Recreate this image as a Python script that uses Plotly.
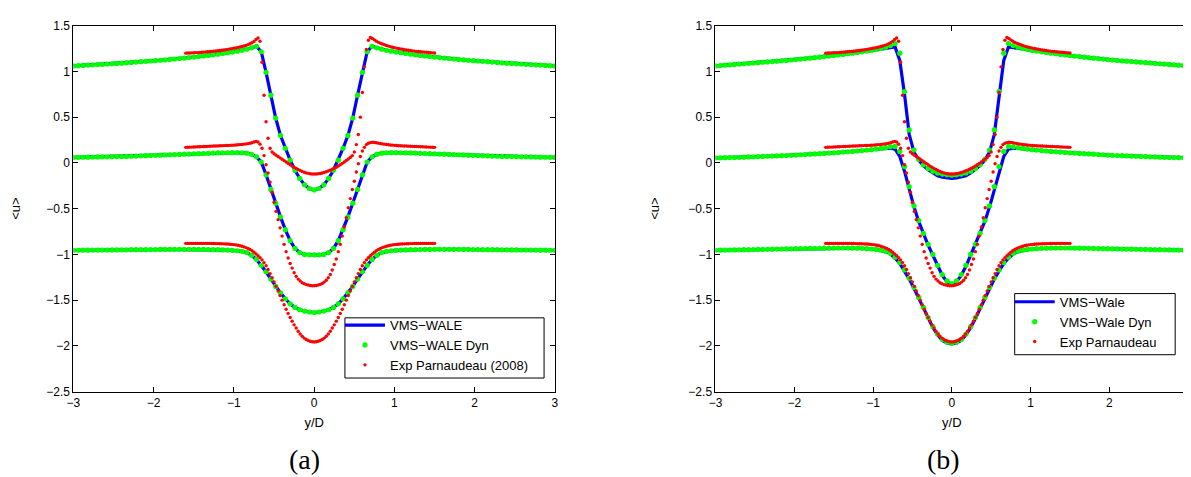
import numpy as np
import plotly.graph_objects as go

# ---------------- data ----------------
# sample positions (y/D)
SIM_Y = np.round(np.linspace(-3.0, 3.0, 101), 3)      # simulation profiles
EXP_Y = np.round(np.linspace(-1.6, 1.5, 125), 3)      # PIV profiles

X_TICKS = [-3, -2, -1, 0, 1, 2, 3]
X_TICK_LABELS = ["\u22123", "\u22122", "\u22121", "0", "1", "2", "3"]
Y_TICKS = [-2.5, -2, -1.5, -1, -0.5, 0, 0.5, 1, 1.5]
Y_TICK_LABELS = ["\u22122.5", "\u22122", "\u22121.5", "\u22121", "\u22120.5", "0", "0.5", "1", "1.5"]

# ---- panel (a): VMS-WALE (line and dynamic dots coincide) ----
A_TOP = [1.060, 1.063, 1.066, 1.069, 1.072, 1.075, 1.078, 1.081, 1.084, 1.087,
         1.090, 1.094, 1.098, 1.102, 1.106, 1.110, 1.114, 1.118, 1.122, 1.126,
         1.131, 1.136, 1.141, 1.146, 1.151, 1.157, 1.163, 1.169, 1.175, 1.181,
         1.188, 1.196, 1.204, 1.212, 1.221, 1.231, 1.243, 1.258, 1.275, 1.215,
         0.99, 0.74, 0.49, 0.30, 0.16, 0.03, -0.08, -0.17, -0.24, -0.28,
         -0.295,
         -0.28, -0.24, -0.17, -0.08, 0.03, 0.16, 0.30, 0.49, 0.74, 0.99,
         1.215, 1.275, 1.258, 1.243, 1.231, 1.221, 1.212, 1.204, 1.196, 1.188,
         1.181, 1.175, 1.169, 1.163, 1.157, 1.151, 1.146, 1.141, 1.136, 1.131,
         1.126, 1.122, 1.118, 1.114, 1.110, 1.106, 1.102, 1.098, 1.094, 1.090,
         1.087, 1.084, 1.081, 1.078, 1.075, 1.072, 1.069, 1.066, 1.063, 1.060]

A_MID = [0.060, 0.061, 0.062, 0.063, 0.064, 0.065, 0.066, 0.067, 0.068, 0.069,
         0.070, 0.071, 0.073, 0.075, 0.077, 0.079, 0.081, 0.083, 0.085, 0.087,
         0.089, 0.091, 0.093, 0.095, 0.097, 0.099, 0.101, 0.103, 0.105, 0.107,
         0.109, 0.110, 0.111, 0.112, 0.112, 0.111, 0.106, 0.094, 0.066, 0.010,
         -0.13, -0.29, -0.44, -0.59, -0.73, -0.85, -0.935, -0.98, -1.0, -1.005,
         -1.005,
         -1.005, -1.0, -0.98, -0.935, -0.85, -0.73, -0.59, -0.44, -0.29, -0.13,
         0.010, 0.066, 0.094, 0.106, 0.111, 0.112, 0.112, 0.111, 0.110, 0.109,
         0.107, 0.105, 0.103, 0.101, 0.099, 0.097, 0.095, 0.093, 0.091, 0.089,
         0.087, 0.085, 0.083, 0.081, 0.079, 0.077, 0.075, 0.073, 0.071, 0.070,
         0.069, 0.068, 0.067, 0.066, 0.065, 0.064, 0.063, 0.062, 0.061, 0.060]

A_BOT = [-0.955, -0.955, -0.954, -0.954, -0.953, -0.953, -0.952, -0.952, -0.951, -0.951,
         -0.950, -0.950, -0.949, -0.949, -0.948, -0.948, -0.947, -0.947, -0.946, -0.946,
         -0.945, -0.945, -0.945, -0.945, -0.945, -0.945, -0.946, -0.946, -0.947, -0.948,
         -0.949, -0.951, -0.953, -0.956, -0.960, -0.967, -0.980, -1.010, -1.055, -1.120,
         -1.190, -1.270, -1.350, -1.420, -1.485, -1.540, -1.580, -1.605, -1.620, -1.630,
         -1.635,
         -1.630, -1.620, -1.605, -1.580, -1.540, -1.485, -1.420, -1.350, -1.270, -1.190,
         -1.120, -1.055, -1.010, -0.980, -0.967, -0.960, -0.956, -0.953, -0.951, -0.949,
         -0.948, -0.947, -0.946, -0.946, -0.945, -0.945, -0.945, -0.945, -0.945, -0.945,
         -0.946, -0.946, -0.947, -0.947, -0.948, -0.948, -0.949, -0.949, -0.950, -0.950,
         -0.951, -0.951, -0.952, -0.952, -0.953, -0.953, -0.954, -0.954, -0.955, -0.955]

# ---- panel (b): VMS-Wale (line) ----
B_TOP_LINE = [1.060, 1.064, 1.068, 1.072, 1.076, 1.080, 1.084, 1.088, 1.092, 1.096,
              1.100, 1.104, 1.108, 1.112, 1.116, 1.120, 1.125, 1.130, 1.135, 1.140,
              1.145, 1.150, 1.156, 1.162, 1.168, 1.174, 1.180, 1.186, 1.193, 1.200,
              1.207, 1.214, 1.222, 1.230, 1.236, 1.244, 1.252, 1.262, 1.268, 1.120,
              0.75, 0.31, 0.12, 0.03, -0.03, -0.075, -0.11, -0.14, -0.155, -0.165,
              -0.17,
              -0.165, -0.155, -0.14, -0.11, -0.075, -0.03, 0.03, 0.12, 0.31, 0.75,
              1.120, 1.268, 1.262, 1.252, 1.244, 1.236, 1.230, 1.222, 1.214, 1.207,
              1.200, 1.193, 1.186, 1.180, 1.174, 1.168, 1.162, 1.156, 1.150, 1.145,
              1.140, 1.135, 1.130, 1.125, 1.120, 1.116, 1.112, 1.108, 1.104, 1.100,
              1.096, 1.092, 1.088, 1.084, 1.080, 1.076, 1.072, 1.068, 1.064, 1.060]

B_MID_LINE = [0.055, 0.056, 0.057, 0.058, 0.059, 0.061, 0.063, 0.065, 0.067, 0.069,
              0.071, 0.073, 0.075, 0.077, 0.079, 0.081, 0.083, 0.086, 0.089, 0.092,
              0.095, 0.098, 0.101, 0.104, 0.107, 0.110, 0.114, 0.118, 0.122, 0.126,
              0.130, 0.135, 0.140, 0.145, 0.150, 0.155, 0.158, 0.160, 0.150, 0.070,
              -0.09, -0.29, -0.48, -0.64, -0.78, -0.90, -1.01, -1.13, -1.23, -1.30,
              -1.33,
              -1.30, -1.23, -1.13, -1.01, -0.90, -0.78, -0.64, -0.48, -0.29, -0.09,
              0.070, 0.150, 0.160, 0.158, 0.155, 0.150, 0.145, 0.140, 0.135, 0.130,
              0.126, 0.122, 0.118, 0.114, 0.110, 0.107, 0.104, 0.101, 0.098, 0.095,
              0.092, 0.089, 0.086, 0.083, 0.081, 0.079, 0.077, 0.075, 0.073, 0.071,
              0.069, 0.067, 0.065, 0.063, 0.061, 0.059, 0.058, 0.057, 0.056, 0.055]

B_BOT_LINE = [-0.955, -0.954, -0.953, -0.952, -0.951, -0.950, -0.949, -0.948, -0.947, -0.946,
              -0.945, -0.944, -0.943, -0.942, -0.941, -0.940, -0.939, -0.938, -0.937, -0.936,
              -0.935, -0.934, -0.933, -0.932, -0.931, -0.930, -0.930, -0.930, -0.930, -0.931,
              -0.932, -0.934, -0.937, -0.941, -0.946, -0.956, -0.970, -0.995, -1.040, -1.100,
              -1.180, -1.270, -1.370, -1.480, -1.590, -1.700, -1.800, -1.880, -1.940, -1.968,
              -1.978,
              -1.968, -1.940, -1.880, -1.800, -1.700, -1.590, -1.480, -1.370, -1.270, -1.180,
              -1.100, -1.040, -0.995, -0.970, -0.956, -0.946, -0.941, -0.937, -0.934, -0.932,
              -0.931, -0.930, -0.930, -0.930, -0.930, -0.931, -0.932, -0.933, -0.934, -0.935,
              -0.936, -0.937, -0.938, -0.939, -0.940, -0.941, -0.942, -0.943, -0.944, -0.945,
              -0.946, -0.947, -0.948, -0.949, -0.950, -0.951, -0.952, -0.953, -0.954, -0.955]

# ---- panel (b): VMS-Wale Dyn (dots) ----
B_TOP_DYN = [1.060, 1.064, 1.068, 1.072, 1.076, 1.080, 1.084, 1.088, 1.092, 1.096,
             1.100, 1.104, 1.108, 1.112, 1.116, 1.120, 1.125, 1.130, 1.135, 1.140,
             1.145, 1.150, 1.156, 1.162, 1.168, 1.174, 1.180, 1.186, 1.193, 1.200,
             1.207, 1.214, 1.222, 1.230, 1.240, 1.251, 1.264, 1.282, 1.305, 1.200,
             0.78, 0.36, 0.14, 0.04, -0.02, -0.06, -0.09, -0.11, -0.122, -0.13,
             -0.134,
             -0.13, -0.122, -0.11, -0.09, -0.06, -0.02, 0.04, 0.14, 0.36, 0.78,
             1.200, 1.305, 1.282, 1.264, 1.251, 1.240, 1.230, 1.222, 1.214, 1.207,
             1.200, 1.193, 1.186, 1.180, 1.174, 1.168, 1.162, 1.156, 1.150, 1.145,
             1.140, 1.135, 1.130, 1.125, 1.120, 1.116, 1.112, 1.108, 1.104, 1.100,
             1.096, 1.092, 1.088, 1.084, 1.080, 1.076, 1.072, 1.068, 1.064, 1.060]

B_MID_DYN = [0.055, 0.056, 0.057, 0.058, 0.059, 0.061, 0.063, 0.065, 0.067, 0.069,
             0.071, 0.073, 0.075, 0.077, 0.079, 0.081, 0.083, 0.086, 0.089, 0.092,
             0.095, 0.098, 0.101, 0.104, 0.107, 0.110, 0.114, 0.118, 0.122, 0.126,
             0.130, 0.135, 0.140, 0.145, 0.151, 0.158, 0.166, 0.176, 0.180, 0.125,
             -0.04, -0.26, -0.47, -0.63, -0.77, -0.89, -1.00, -1.12, -1.22, -1.29,
             -1.32,
             -1.29, -1.22, -1.12, -1.00, -0.89, -0.77, -0.63, -0.47, -0.26, -0.04,
             0.125, 0.180, 0.176, 0.166, 0.158, 0.151, 0.145, 0.140, 0.135, 0.130,
             0.126, 0.122, 0.118, 0.114, 0.110, 0.107, 0.104, 0.101, 0.098, 0.095,
             0.092, 0.089, 0.086, 0.083, 0.081, 0.079, 0.077, 0.075, 0.073, 0.071,
             0.069, 0.067, 0.065, 0.063, 0.061, 0.059, 0.058, 0.057, 0.056, 0.055]

B_BOT_DYN = [-0.955, -0.954, -0.953, -0.952, -0.951, -0.950, -0.949, -0.948, -0.947, -0.946,
             -0.945, -0.944, -0.943, -0.942, -0.941, -0.940, -0.939, -0.938, -0.937, -0.936,
             -0.935, -0.934, -0.933, -0.932, -0.931, -0.930, -0.930, -0.930, -0.930, -0.931,
             -0.932, -0.934, -0.937, -0.941, -0.946, -0.954, -0.966, -0.990, -1.030, -1.090,
             -1.170, -1.260, -1.360, -1.470, -1.580, -1.690, -1.790, -1.870, -1.930, -1.960,
             -1.970,
             -1.960, -1.930, -1.870, -1.790, -1.690, -1.580, -1.470, -1.360, -1.260, -1.170,
             -1.090, -1.030, -0.990, -0.966, -0.954, -0.946, -0.941, -0.937, -0.934, -0.932,
             -0.931, -0.930, -0.930, -0.930, -0.930, -0.931, -0.932, -0.933, -0.934, -0.935,
             -0.936, -0.937, -0.938, -0.939, -0.940, -0.941, -0.942, -0.943, -0.944, -0.945,
             -0.946, -0.947, -0.948, -0.949, -0.950, -0.951, -0.952, -0.953, -0.954, -0.955]

# ---- experiment (Parnaudeau 2008), same in both panels ----
EXP_TOP = [1.200, 1.201, 1.202, 1.203, 1.204, 1.205, 1.206, 1.207, 1.209, 1.211,
           1.213, 1.215, 1.217, 1.219, 1.221, 1.223, 1.226, 1.229, 1.232, 1.235,
           1.238, 1.241, 1.245, 1.249, 1.253, 1.257, 1.262, 1.267, 1.272, 1.278,
           1.285, 1.293, 1.302, 1.313, 1.328, 1.350, 1.365, 1.330, 1.100, 0.740,
           0.450, 0.270, 0.160, 0.120, 0.100, 0.085, 0.070, 0.055, 0.040, 0.025,
           0.010, -0.005, -0.020, -0.035, -0.048, -0.060, -0.072, -0.083, -0.093, -0.102,
           -0.109, -0.114, -0.118, -0.121, -0.122, -0.121, -0.119, -0.115, -0.110, -0.104,
           -0.097, -0.089, -0.080, -0.070, -0.059, -0.047, -0.034, -0.020, -0.005, 0.010,
           0.026, 0.042, 0.060, 0.080, 0.120, 0.200, 0.310, 0.500, 0.770, 1.050,
           1.240, 1.340, 1.370, 1.360, 1.345, 1.330, 1.318, 1.308, 1.299, 1.291,
           1.284, 1.277, 1.271, 1.265, 1.260, 1.255, 1.250, 1.246, 1.242, 1.238,
           1.234, 1.231, 1.228, 1.225, 1.222, 1.219, 1.217, 1.215, 1.213, 1.211,
           1.209, 1.207, 1.205, 1.203, 1.201]

EXP_MID = [0.170, 0.171, 0.172, 0.173, 0.174, 0.175, 0.176, 0.177, 0.178, 0.179,
           0.180, 0.181, 0.182, 0.183, 0.184, 0.185, 0.186, 0.187, 0.188, 0.189,
           0.190, 0.191, 0.192, 0.193, 0.194, 0.196, 0.198, 0.200, 0.202, 0.205,
           0.208, 0.211, 0.215, 0.220, 0.228, 0.235, 0.228, 0.205, 0.160, 0.080,
           -0.020, -0.110, -0.210, -0.320, -0.430, -0.530, -0.620, -0.710, -0.800, -0.890,
           -0.970, -1.040, -1.100, -1.150, -1.200, -1.240, -1.270, -1.290, -1.310, -1.320,
           -1.330, -1.335, -1.340, -1.342, -1.342, -1.340, -1.335, -1.328, -1.318, -1.303,
           -1.282, -1.255, -1.220, -1.170, -1.110, -1.050, -0.970, -0.890, -0.800, -0.700,
           -0.600, -0.490, -0.390, -0.290, -0.200, -0.100, -0.010, 0.070, 0.130, 0.170,
           0.200, 0.215, 0.222, 0.225, 0.223, 0.220, 0.216, 0.212, 0.208, 0.205,
           0.202, 0.199, 0.196, 0.194, 0.192, 0.190, 0.188, 0.187, 0.186, 0.185,
           0.184, 0.183, 0.182, 0.181, 0.180, 0.179, 0.178, 0.177, 0.176, 0.175,
           0.174, 0.173, 0.172, 0.171, 0.170]

EXP_BOT = [-0.880, -0.880, -0.880, -0.880, -0.880, -0.880, -0.880, -0.880, -0.880, -0.880,
           -0.880, -0.880, -0.880, -0.881, -0.881, -0.882, -0.882, -0.883, -0.884, -0.885,
           -0.886, -0.887, -0.889, -0.891, -0.893, -0.896, -0.900, -0.905, -0.911, -0.918,
           -0.926, -0.935, -0.946, -0.960, -0.977, -0.995, -1.015, -1.037, -1.060, -1.090,
           -1.125, -1.165, -1.210, -1.255, -1.300, -1.350, -1.400, -1.450, -1.500, -1.550,
           -1.600, -1.645, -1.690, -1.730, -1.770, -1.805, -1.840, -1.870, -1.895, -1.915,
           -1.930, -1.942, -1.950, -1.955, -1.957, -1.955, -1.950, -1.942, -1.930, -1.915,
           -1.895, -1.870, -1.840, -1.805, -1.770, -1.730, -1.690, -1.645, -1.600, -1.550,
           -1.500, -1.450, -1.400, -1.350, -1.300, -1.255, -1.210, -1.165, -1.125, -1.090,
           -1.060, -1.037, -1.015, -0.995, -0.977, -0.960, -0.946, -0.935, -0.926, -0.918,
           -0.911, -0.905, -0.900, -0.896, -0.893, -0.891, -0.889, -0.887, -0.886, -0.885,
           -0.884, -0.883, -0.882, -0.882, -0.881, -0.881, -0.880, -0.880, -0.880, -0.880,
           -0.880, -0.880, -0.880, -0.880, -0.880]

for arr in (A_TOP, A_MID, A_BOT, B_TOP_LINE, B_MID_LINE, B_BOT_LINE, B_TOP_DYN, B_MID_DYN, B_BOT_DYN):
    assert len(arr) == len(SIM_Y), len(arr)
for arr in (EXP_TOP, EXP_MID, EXP_BOT):
    assert len(arr) == len(EXP_Y), len(arr)

# ---------------- figure ----------------
W, H = 1191, 477
BLUE, GREEN, RED = "#0000ff", "#00ff00", "#ff0000"
FONT = "Liberation Sans, Arial, Helvetica, sans-serif"

panels = [
    dict(xa="x", ya="y", legend="legend",
         names=("VMS\u2212WALE", "VMS\u2212WALE Dyn", "Exp Parnaudeau (2008)"),
         line=[A_TOP, A_MID, A_BOT], dyn=[A_TOP, A_MID, A_BOT]),
    dict(xa="x2", ya="y2", legend="legend2",
         names=("VMS\u2212Wale", "VMS\u2212Wale Dyn", "Exp Parnaudeau"),
         line=[B_TOP_LINE, B_MID_LINE, B_BOT_LINE], dyn=[B_TOP_DYN, B_MID_DYN, B_BOT_DYN]),
]

fig = go.Figure()
for p in panels:
    for i, yv in enumerate(p["line"]):
        fig.add_trace(go.Scatter(x=SIM_Y, y=yv, mode="lines", name=p["names"][0],
                                 line=dict(color=BLUE, width=3.2),
                                 showlegend=(i == 0), legend=p["legend"],
                                 xaxis=p["xa"], yaxis=p["ya"]))
    for i, yv in enumerate(p["dyn"]):
        fig.add_trace(go.Scatter(x=SIM_Y, y=yv, mode="markers", name=p["names"][1],
                                 marker=dict(color=GREEN, size=5.2),
                                 showlegend=(i == 0), legend=p["legend"],
                                 xaxis=p["xa"], yaxis=p["ya"]))
    for i, yv in enumerate([EXP_TOP, EXP_MID, EXP_BOT]):
        fig.add_trace(go.Scatter(x=EXP_Y, y=yv, mode="markers", name=p["names"][2],
                                 marker=dict(color=RED, size=3.4),
                                 showlegend=(i == 0), legend=p["legend"],
                                 xaxis=p["xa"], yaxis=p["ya"]))

y_dom = [1 - 388 / H, 1 - 11 / H]
axis_common = dict(ticks="inside", ticklen=5, tickwidth=1, tickcolor="black",
                   showline=True, linecolor="black", linewidth=1, mirror="ticks",
                   showgrid=False, zeroline=False, ticklabeloverflow="allow",
                   tickfont=dict(family=FONT, size=12, color="black"))
title_font = dict(family=FONT, size=13, color="black")
legend_common = dict(xanchor="left", yanchor="top", borderwidth=0,
                     bgcolor="rgba(0,0,0,0)", itemwidth=40, tracegroupgap=0,
                     font=dict(family=FONT, size=13, color="black"))


def box(x0, y0, x1, y1):
    return dict(type="rect", xref="paper", yref="paper", layer="above",
                x0=x0 / W, x1=x1 / W, y0=1 - y1 / H, y1=1 - y0 / H,
                line=dict(color="black", width=1), fillcolor="white")


fig.update_layout(
    width=W, height=H,
    margin=dict(l=0, r=0, t=0, b=0),
    paper_bgcolor="white", plot_bgcolor="white",
    xaxis=dict(domain=[59 / W, 545 / W], range=[-3, 3], tickvals=X_TICKS, ticktext=X_TICK_LABELS,
               anchor="y", title=dict(text="y/D", font=title_font, standoff=8), **axis_common),
    yaxis=dict(domain=y_dom, range=[-2.5, 1.5], tickvals=Y_TICKS, ticktext=Y_TICK_LABELS,
               anchor="x", title=dict(text="&lt;u&gt;", font=title_font, standoff=25), **axis_common),
    xaxis2=dict(domain=[707 / W, 1184 / W], range=[-3, 3], tickvals=X_TICKS, ticktext=X_TICK_LABELS,
                anchor="y2", title=dict(text="y/D", font=title_font, standoff=8), **axis_common),
    yaxis2=dict(domain=y_dom, range=[-2.5, 1.5], tickvals=Y_TICKS, ticktext=Y_TICK_LABELS,
                anchor="x2", title=dict(text="&lt;u&gt;", font=title_font, standoff=25), **axis_common),
    legend=dict(x=328 / W, y=1 - 304 / H, **legend_common),
    legend2=dict(x=1004 / W, y=1 - 280 / H, **legend_common),
    shapes=[box(333, 312, 534, 374), box(1009, 287, 1171, 350)],
    annotations=[
        dict(text="(a)", x=292 / W, y=1 - 458 / H, xref="paper", yref="paper",
             showarrow=False, xanchor="center", yanchor="middle",
             font=dict(family="Liberation Serif, DejaVu Serif, serif", size=28, color="black")),
        dict(text="(b)", x=937 / W, y=1 - 458 / H, xref="paper", yref="paper",
             showarrow=False, xanchor="center", yanchor="middle",
             font=dict(family="Liberation Serif, DejaVu Serif, serif", size=28, color="black")),
    ],
    showlegend=True,
)

fig.write_html("out.html")
